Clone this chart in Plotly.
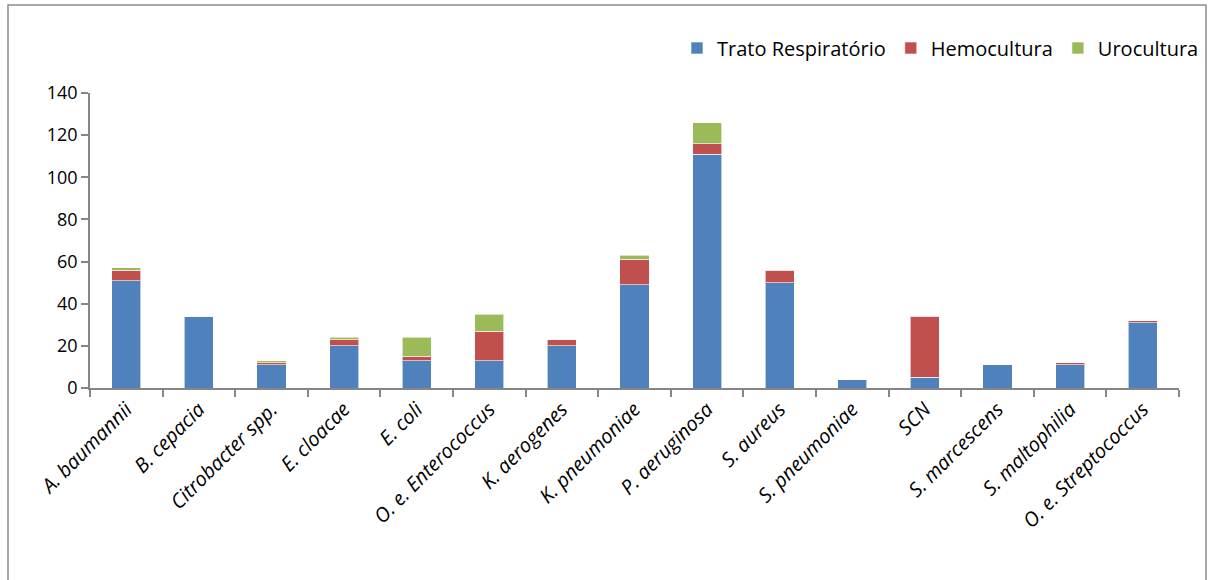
import plotly.graph_objects as go

# Microorganisms isolated, by sample source
categories = [
    "A. baumannii", "B. cepacia", "Citrobacter spp.", "E. cloacae", "E. coli",
    "O. e. Enterococcus", "K. aerogenes", "K. pneumoniae", "P. aeruginosa",
    "S. aureus", "S. pneumoniae", "SCN", "S. marcescens", "S. maltophilia",
    "O. e. Streptococcus",
]
trato_respiratorio = [51, 34, 11, 20, 13, 13, 20, 49, 111, 50, 4, 5, 11, 11, 31]
hemocultura = [5, 0, 1, 3, 2, 14, 3, 12, 5, 6, 0, 29, 0, 1, 1]
urocultura = [1, 0, 1, 1, 9, 8, 0, 2, 10, 0, 0, 0, 0, 0, 0]
y_ticks = [0, 20, 40, 60, 80, 100, 120, 140]

series = [
    ("Trato Respiratório", trato_respiratorio, "#4F81BD"),
    ("Hemocultura", hemocultura, "#C0504D"),
    ("Urocultura", urocultura, "#9BBB59"),
]

FONT = "'Open Sans', Lato, sans-serif"
W, H = 1208, 580
ML, MR, MT, MB = 90, 29, 93, 192

fig = go.Figure()
for name, vals, color in series:
    fig.add_trace(go.Bar(
        name=name, x=categories, y=vals,
        marker=dict(color=color, line=dict(color="rgba(255,255,255,0.6)", width=1)),
    ))

# outer chart frame, expressed in paper units of the plot area
pw, ph = W - ML - MR, H - MT - MB
def px_x(p):
    return (p - ML) / pw
def px_y(p):
    return (H - MB - p) / ph

fig.add_shape(
    type="rect", xref="paper", yref="paper",
    x0=px_x(8), x1=px_x(1206), y0=px_y(600), y1=px_y(5),
    line=dict(color="#8C8C8C", width=1.5), fillcolor="rgba(0,0,0,0)", layer="below",
)

fig.update_layout(
    width=W, height=H,
    barmode="stack", bargap=0.6,
    margin=dict(l=ML, r=MR, t=MT, b=MB, autoexpand=False),
    paper_bgcolor="white", plot_bgcolor="white",
    font=dict(family=FONT, size=18, color="#000000"),
    legend=dict(
        orientation="h", xref="container", yref="container",
        x=1204 / W, xanchor="right", y=1 - 48 / H, yanchor="middle",
        font=dict(family=FONT, size=20, color="#000000"),
        itemwidth=30, traceorder="normal",
    ),
    showlegend=True,
)
fig.update_xaxes(
    showline=True, linecolor="#868686", linewidth=1.5,
    ticks="outside", ticklen=7, tickcolor="#868686", tickwidth=1.5,
    tickson="boundaries", tickangle=-45,
    tickfont=dict(family=FONT, size=20, style="italic"),
    showgrid=False, automargin=False,
)
fig.update_yaxes(
    range=[0, 140], tickvals=y_ticks,
    showline=True, linecolor="#868686", linewidth=1.5,
    ticks="outside", ticklen=7, tickcolor="#868686", tickwidth=1.5,
    showgrid=False, zeroline=False, automargin=False,
    tickfont=dict(family=FONT, size=18),
)

fig.write_html("out.html")
